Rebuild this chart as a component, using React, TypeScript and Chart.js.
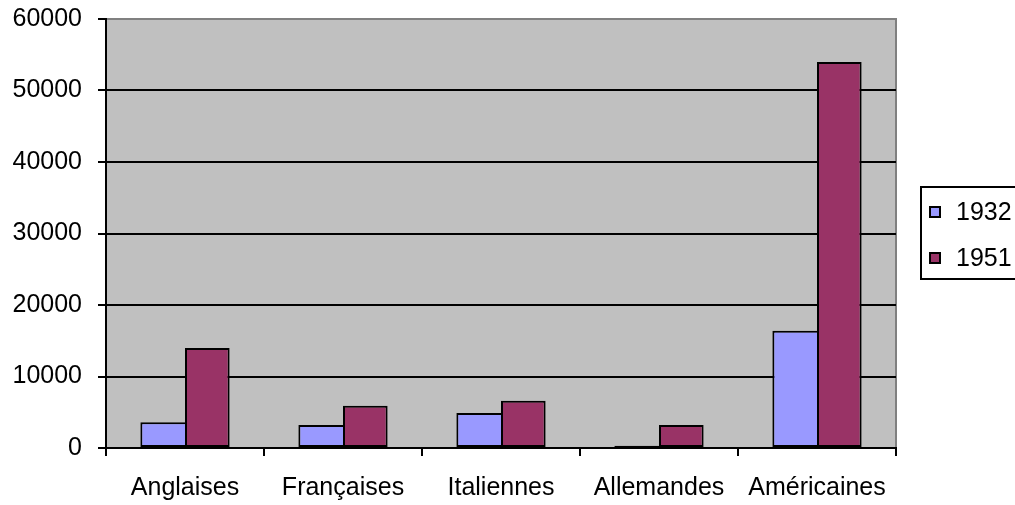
import React, { useEffect, useRef } from "react";
import { Chart, registerables } from "chart.js";

Chart.register(...registerables);

const categories = ["Anglaises", "Françaises", "Italiennes", "Allemandes", "Américaines"];
const seriesNames = ["1932", "1951"];
const values1932 = [3600, 3200, 4900, 300, 16400];
const values1951 = [14000, 5900, 6600, 3200, 54000];
const yMin = 0;
const yMax = 60000;
const yStep = 10000;

const FONT = "'Liberation Sans', Arial, sans-serif";
const FONT_SIZE = 25;
const colors = ["#9999FF", "#993366"];

const plotBg = {
  id: "plotBg",
  beforeDraw(chart: any) {
    const { ctx, chartArea } = chart;
    if (!chartArea) return;
    ctx.save();
    ctx.fillStyle = "#C0C0C0";
    ctx.fillRect(chartArea.left, chartArea.top, chartArea.right - chartArea.left, chartArea.bottom - chartArea.top);
    ctx.strokeStyle = "#808080";
    ctx.lineWidth = 2;
    ctx.strokeRect(chartArea.left, chartArea.top, chartArea.right - chartArea.left, chartArea.bottom - chartArea.top);
    ctx.restore();
  },
};

const boxLegend = {
  id: "boxLegend",
  afterDraw(chart: any) {
    const { ctx } = chart;
    ctx.save();
    ctx.strokeStyle = "#000";
    ctx.lineWidth = 2;
    ctx.strokeRect(921, 187, 120, 92);
    ctx.font = `${FONT_SIZE}px ${FONT}`;
    ctx.textBaseline = "middle";
    ctx.textAlign = "left";
    chart.data.datasets.forEach((ds: any, i: number) => {
      const cy = 212 + i * 46;
      ctx.fillStyle = ds.backgroundColor;
      ctx.fillRect(930, cy - 5, 10, 10);
      ctx.strokeStyle = "#000";
      ctx.lineWidth = 2;
      ctx.strokeRect(930, cy - 5, 10, 10);
      ctx.fillStyle = "#000";
      ctx.fillText(ds.label, 956, cy + 1);
    });
    ctx.restore();
  },
};

export default function App() {
  const ref = useRef<HTMLCanvasElement>(null);
  useEffect(() => {
    if (!ref.current) return;
    const chart = new Chart(ref.current, {
      type: "bar",
      data: {
        labels: categories,
        datasets: [
          {
            label: seriesNames[0],
            data: values1932,
            backgroundColor: colors[0],
            borderColor: "#000",
            borderWidth: { top: 2, left: 2, bottom: 2, right: 0 },
            borderSkipped: false,
            categoryPercentage: 0.565,
            barPercentage: 1.0,
          },
          {
            label: seriesNames[1],
            data: values1951,
            backgroundColor: colors[1],
            borderColor: "#000",
            borderWidth: 2,
            borderSkipped: false,
            categoryPercentage: 0.565,
            barPercentage: 1.0,
          },
        ],
      },
      options: {
        animation: false,
        responsive: false,
        devicePixelRatio: 1,
        layout: { padding: { left: 0, right: 119, top: 0, bottom: 0 } },
        plugins: { legend: { display: false }, tooltip: { enabled: false } },
        scales: {
          x: {
            afterFit(scale: any) {
              scale.height = 57;
            },
            grid: {
              offset: true,
              drawOnChartArea: false,
              drawTicks: true,
              tickLength: 8,
              color: "#000",
              lineWidth: 2,
            },
            border: { display: true, color: "#000", width: 2 },
            ticks: {
              color: "#000",
              font: { family: FONT, size: FONT_SIZE },
              padding: 17,
              maxRotation: 0,
              autoSkip: false,
            },
          },
          y: {
            min: yMin,
            max: yMax,
            afterFit(scale: any) {
              scale.width = 106;
              scale.paddingTop = 19;
              scale.paddingBottom = 0;
            },
            grid: {
              color: (c: any) => (c.tick && c.tick.value === yMax ? "#808080" : "#000"),
              lineWidth: 2,
              tickLength: 8,
              tickColor: "#000",
            },
            border: { display: true, color: "#000", width: 2 },
            ticks: {
              stepSize: yStep,
              color: "#000",
              font: { family: FONT, size: FONT_SIZE },
              padding: 16,
              callback: (v: any) => String(v),
            },
          },
        },
      },
      plugins: [plotBg, boxLegend],
    });
    return () => chart.destroy();
  }, []);
  return (
    <div style={{ position: "fixed", left: 0, top: 0, width: 1015, height: 505, background: "#fff" }}>
      <canvas ref={ref} width={1015} height={505} style={{ display: "block" }} />
    </div>
  );
}
